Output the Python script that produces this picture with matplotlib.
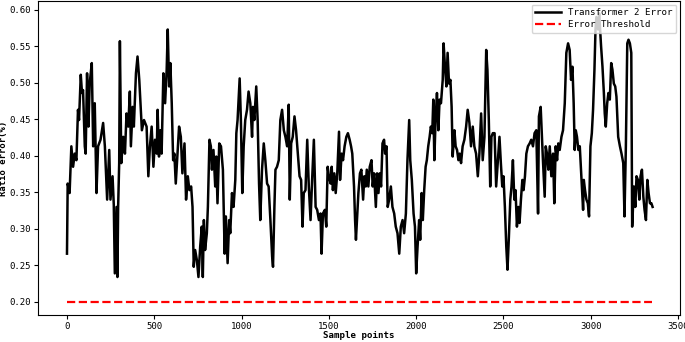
import numpy as np
import matplotlib
matplotlib.use("Agg")
import matplotlib.pyplot as plt

# ---------------- datos ----------------
# indice de muestra (vertices del trazo) y error de relacion (%)
muestras = [0, 4, 15, 25, 35, 44, 54, 63, 69, 79, 86, 92, 102, 107, 115, 123, 130, 142, 150, 159,
            169, 178, 192, 207, 217, 230, 242, 249, 261, 268, 274, 284, 289, 293, 299, 303, 311, 322, 332, 341,
            351, 360, 366, 376, 383, 395, 404, 414, 422, 429, 441,
            456, 466, 475, 485, 495, 504, 514, 519, 527, 535, 542, 552, 562, 571, 577, 585, 592, 600, 608,
            615, 623, 632, 642, 652, 661, 673, 682, 692, 701, 711, 719, 726, 734, 744, 753, 763, 772, 778, 784,
            791, 801, 807, 816, 824, 830, 839, 849, 855, 862, 872, 882, 893, 903, 910, 920, 929,
            935, 945, 954, 964, 970, 977, 989, 996, 1004, 1012, 1021, 1031, 1040, 1050, 1060, 1065, 1073, 1084, 1092,
            1100, 1107, 1117, 1127, 1136, 1146, 1155, 1165, 1175, 1180, 1188, 1194, 1203, 1213, 1222, 1232, 1242,
            1251, 1261, 1270, 1276, 1284, 1293, 1303, 1312, 1322, 1332, 1341, 1349, 1356, 1366, 1376, 1385, 1395,
            1404, 1414,
            1424, 1433, 1443, 1452, 1458, 1466, 1477, 1485, 1493, 1500, 1510, 1516, 1523, 1531, 1539, 1548, 1558,
            1564, 1573, 1581, 1590, 1600, 1609, 1619, 1627, 1634, 1644, 1650, 1655, 1663, 1669, 1678, 1686, 1696,
            1703, 1711, 1717, 1726, 1734, 1744, 1751, 1759, 1769, 1776, 1784, 1791, 1799, 1807, 1816, 1822, 1830,
            1837, 1845, 1855, 1864, 1874, 1883, 1893, 1903,
            1912, 1922, 1931, 1941, 1950, 1960, 1966, 1975, 1985, 1993, 2000, 2008, 2017, 2023, 2031, 2038, 2046,
            2054, 2061, 2069, 2077, 2084, 2092, 2098, 2104, 2111, 2119, 2127, 2134, 2142, 2152, 2157, 2165, 2173,
            2180, 2188, 2196, 2203, 2209, 2219, 2226, 2234, 2242, 2249, 2257, 2266, 2276, 2286, 2295, 2305, 2314,
            2324, 2333, 2343, 2353, 2362, 2372, 2381, 2391,
            2401, 2408, 2416, 2424, 2431, 2439, 2449, 2458, 2468, 2477, 2485, 2493, 2500, 2508, 2516, 2523, 2531,
            2539, 2546, 2554, 2562, 2569, 2577, 2585, 2592, 2600, 2608, 2615, 2623, 2631, 2640, 2650, 2659, 2669,
            2678, 2688, 2698, 2703, 2713, 2721, 2726, 2736, 2742, 2749, 2757, 2765, 2774, 2784, 2791, 2799, 2807,
            2814, 2822, 2832, 2841, 2851,
            2860, 2870, 2879, 2887, 2895, 2902, 2908, 2914, 2921, 2929, 2937, 2946, 2956, 2960, 2967, 2975, 2983,
            2990, 2998, 3006, 3013, 3021, 3027, 3032, 3042, 3048, 3059, 3067, 3075, 3080, 3086, 3094, 3101, 3109,
            3117, 3124, 3132, 3140, 3147, 3157, 3167, 3176, 3186, 3193, 3201, 3209, 3216, 3224, 3232, 3237, 3247,
            3255, 3262, 3270, 3278, 3285, 3293, 3301, 3308, 3316, 3324, 3331, 3339, 3347, 3354]

error_rel = [0.266, 0.362, 0.349, 0.413, 0.385, 0.403, 0.394, 0.463, 0.449, 0.511, 0.486, 0.490, 0.413, 0.403,
             0.513, 0.440, 0.499, 0.527, 0.413, 0.472, 0.349, 0.413, 0.422, 0.445, 0.413, 0.340, 0.408, 0.340,
             0.372, 0.333, 0.239, 0.330, 0.234, 0.330, 0.390, 0.557, 0.390, 0.426, 0.403, 0.458, 0.440, 0.488,
             0.413, 0.467, 0.440, 0.513, 0.536, 0.504, 0.467, 0.435, 0.449,
             0.440, 0.372, 0.413, 0.440, 0.385, 0.422, 0.403, 0.463, 0.399, 0.435, 0.403, 0.513, 0.472, 0.518,
             0.573, 0.495, 0.527, 0.472, 0.394, 0.403, 0.362, 0.399, 0.440, 0.426, 0.376, 0.417, 0.340, 0.372,
             0.353, 0.358, 0.330, 0.248, 0.271, 0.257, 0.234, 0.276, 0.303, 0.234, 0.312, 0.271, 0.294, 0.330,
             0.422, 0.413, 0.381, 0.408, 0.358, 0.399, 0.335, 0.417, 0.413, 0.381, 0.266, 0.317, 0.253, 0.312,
             0.294, 0.349, 0.330, 0.367, 0.431, 0.449, 0.506, 0.449, 0.349, 0.413, 0.449, 0.463, 0.488, 0.472,
             0.426, 0.467, 0.449, 0.495, 0.449, 0.362, 0.312, 0.381, 0.417, 0.394, 0.362, 0.358, 0.312, 0.262,
             0.248, 0.330, 0.381, 0.385, 0.394, 0.449, 0.463, 0.435, 0.426, 0.413, 0.470, 0.340, 0.417, 0.426,
             0.454, 0.435, 0.403, 0.372, 0.367, 0.303, 0.349, 0.353, 0.422, 0.358, 0.312, 0.367, 0.422,
             0.330, 0.326, 0.312, 0.321, 0.266, 0.321, 0.326, 0.303, 0.385, 0.372, 0.362, 0.385, 0.353, 0.376,
             0.349, 0.376, 0.433, 0.367, 0.403, 0.394, 0.413, 0.426, 0.431, 0.422, 0.413, 0.403, 0.358, 0.312,
             0.285, 0.321, 0.349, 0.376, 0.381, 0.340, 0.372, 0.358, 0.381, 0.358, 0.385, 0.394, 0.358, 0.376,
             0.330, 0.376, 0.349, 0.376, 0.358, 0.417, 0.422, 0.403, 0.413, 0.330, 0.340, 0.358, 0.330, 0.321,
             0.303, 0.294, 0.266,
             0.303, 0.312, 0.294, 0.321, 0.394, 0.449, 0.394, 0.367, 0.321, 0.303, 0.239, 0.276, 0.312, 0.285,
             0.349, 0.312, 0.353, 0.385, 0.394, 0.413, 0.426, 0.440, 0.431, 0.477, 0.394, 0.449, 0.486, 0.435,
             0.477, 0.472, 0.504, 0.554, 0.522, 0.495, 0.541, 0.499, 0.504, 0.467, 0.399, 0.435, 0.413, 0.408,
             0.394, 0.403, 0.390, 0.413, 0.422, 0.440, 0.463, 0.445, 0.413, 0.440, 0.413, 0.403, 0.372, 0.403,
             0.458, 0.394, 0.426,
             0.545, 0.518, 0.449, 0.358, 0.426, 0.431, 0.431, 0.358, 0.394, 0.426, 0.390, 0.358, 0.372, 0.330,
             0.276, 0.244, 0.289, 0.340, 0.358, 0.394, 0.340, 0.353, 0.303, 0.330, 0.308, 0.340, 0.367, 0.353,
             0.372, 0.403, 0.413, 0.417, 0.422, 0.413, 0.431, 0.435, 0.321, 0.454, 0.467, 0.422, 0.394, 0.344,
             0.413, 0.403, 0.381, 0.413, 0.372, 0.403, 0.335, 0.413, 0.394, 0.417, 0.408, 0.426, 0.435, 0.472,
             0.541, 0.554, 0.545, 0.504, 0.522, 0.472, 0.408, 0.435, 0.426, 0.408, 0.413, 0.372, 0.326, 0.367,
             0.353, 0.340, 0.335, 0.317, 0.413, 0.431, 0.463, 0.518, 0.573, 0.590, 0.573, 0.595, 0.550, 0.522,
             0.486, 0.458, 0.440, 0.472, 0.486, 0.477, 0.527, 0.518, 0.499, 0.495, 0.481, 0.426, 0.413, 0.403,
             0.390, 0.317, 0.413, 0.554, 0.559, 0.554, 0.541, 0.303, 0.358, 0.330, 0.372, 0.367, 0.340, 0.372,
             0.381, 0.344, 0.326, 0.312, 0.367, 0.349, 0.335, 0.335, 0.330]

umbral = 0.20
n_muestras = 3350

# ---------------- grafica ----------------
plt.rcParams['font.family'] = ['DejaVu Sans Mono']

fig = plt.figure(figsize=(6.85, 3.42), dpi=100)
ax = fig.add_axes([38/685, 27/342, 642/685, 314/342])

ax.plot(muestras, error_rel, color='black', lw=1.8, label='Transformer 2 Error')
ax.plot([0, n_muestras - 1], [umbral, umbral], 'r--', lw=1.6, label='Error Threshold')

ax.set_xlim(-166, 3511)
ax.set_ylim(0.182, 0.612)
ax.set_xticks(np.arange(0, 3501, 500))
ax.set_yticks(np.arange(0.20, 0.601, 0.05))
ax.set_yticklabels(["%.2f" % v for v in np.arange(0.20, 0.601, 0.05)])
ax.tick_params(labelsize=6.5, length=3, width=0.8, pad=2)

ax.set_xlabel("Sample points", fontsize=6.6, fontweight='bold', labelpad=0)
ax.set_ylabel("Ratio error(%)", fontsize=6.4, fontweight='bold', labelpad=1)

ax.legend(loc='upper right', fontsize=6.6, handlelength=2.8, borderpad=0.4,
          labelspacing=0.3, borderaxespad=0.4)

plt.savefig("out.png", dpi=100)
